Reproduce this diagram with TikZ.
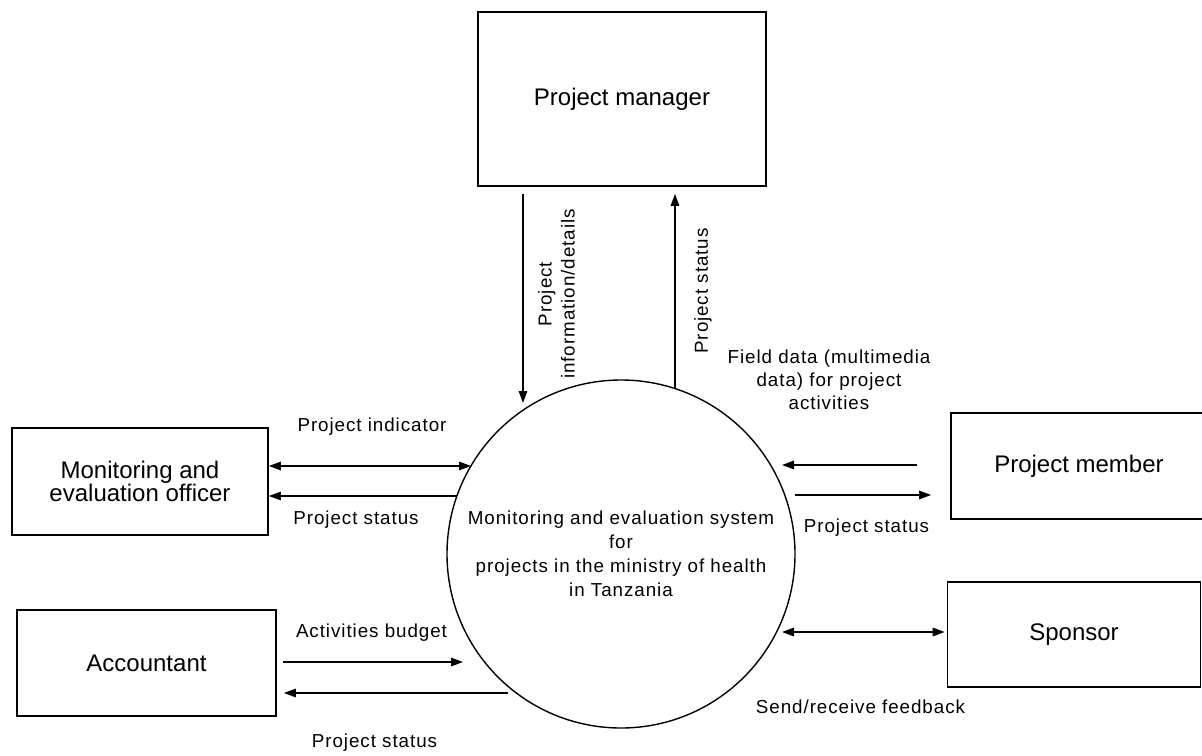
\documentclass[tikz,border=0pt]{standalone}
\usepackage{fontspec}
\setmainfont{Liberation Sans}
\newfontfamily\lblfont[LetterSpace=5]{Liberation Sans}
\usetikzlibrary{arrows.meta}
\begin{document}
\begin{tikzpicture}[x=1pt,y=-1pt,
 box/.style={draw, line width=1.7pt, inner sep=0pt, align=center, font=\fontsize{24}{23.5}\selectfont},
 sysc/.style={draw, circle, line width=1.4pt, minimum size=348pt, inner sep=0pt, align=center, font=\lblfont\fontsize{18.8}{24}\selectfont},
 lbl/.style={inner sep=0pt, align=center, font=\lblfont\fontsize{18.8}{23}\selectfont},
 flow/.style={line width=1.5pt, -{Triangle[length=12pt,width=8.5pt]}},
 biflow/.style={line width=1.5pt, {Triangle[length=12pt,width=8.5pt]}-{Triangle[length=12pt,width=8.5pt]}}]
\useasboundingbox (0,0) rectangle (1202,755);
\clip (0,0) rectangle (1202,755);
% entities
\node[box, minimum width=288pt, minimum height=174pt] (pm) at (622,99) {Project manager};
\node[box, minimum width=256pt, minimum height=107pt] (me) at (140,481.5) {Monitoring and\\evaluation officer};
\node[box, minimum width=259pt, minimum height=106pt] (acc) at (146.5,663) {Accountant};
\node[box, minimum width=256pt, minimum height=106pt] (mem) at (1079,466) {Project member};
\node[box, minimum width=253pt, minimum height=105pt] (sp) at (1074,634.5) {Sponsor};
% process
\node[sysc] (sys) at (621,554) {Monitoring and evaluation system\\for\\projects in the ministry of health\\in Tanzania};
% flow ends
\coordinate (c1) at (523,403);
\coordinate (c2) at (675,388);
\coordinate (c3) at (471,466);
\coordinate (c4) at (457,496);
\coordinate (c5) at (782,465);
\coordinate (c6) at (795,495);
\coordinate (c7) at (463,662);
\coordinate (c8) at (508,693);
\coordinate (c9) at (782,632);
% flows
\draw[flow, shorten <=7pt] (pm.south -| c1) -- (c1);
\draw[flow, shorten >=7pt] (c2) -- (pm.south -| c2);
\draw[biflow] (me.east |- c3) -- (c3);
\draw[flow] (c4) -- (me.east |- c4);
\draw[flow, shorten <=33pt] (mem.west |- c5) -- (c5);
\draw[flow, shorten >=19pt] (c6) -- (mem.west |- c6);
\draw[flow, shorten <=6pt] (acc.east |- c7) -- (c7);
\draw[flow, shorten >=7pt] (c8) -- (acc.east |- c8);
\draw[biflow, shorten >=2pt] (c9) -- (sp.west |- c9);
% labels
\node[lbl, rotate=90] (l1) at (556.5,294) {Project\\information/details};
\node[lbl, rotate=90] (l2) at (703,291) {Project status};
\node[lbl] (l3) at (829,380) {Field data (multimedia\\data) for project\\activities};
\node[lbl] (l4) at (372,427) {Project indicator};
\node[lbl] (l5) at (356,520) {Project status};
\node[lbl] (l6) at (866.5,528) {Project status};
\node[lbl] (l7) at (371.5,633) {Activities budget};
\node[lbl] (l8) at (374.5,743) {Project status};
\node[lbl] (l9) at (860.5,707) {Send/receive feedback};
\end{tikzpicture}
\end{document}
